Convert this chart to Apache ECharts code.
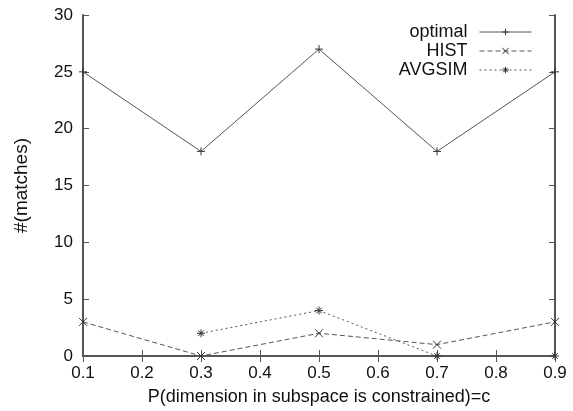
<!DOCTYPE html>
<html><head><meta charset="utf-8">
<script src="https://cdn.jsdelivr.net/npm/echarts@6/dist/echarts.min.js"></script>
<style>html,body{margin:0;padding:0;background:#fff}#c{width:573px;height:411px}</style>
</head><body><div id="c"></div>
<script>
var xValues = [0.1, 0.3, 0.5, 0.7, 0.9];
var optimal = [25, 18, 27, 18, 25];
var hist = [3, 0, 2, 1, 3];
var avgsim = [null, 2, 4, 0, 0];
var seriesNames = ['optimal', 'HIST', 'AVGSIM'];
var xTitle = 'P(dimension in subspace is constrained)=c';
var yTitle = '#(matches)';

function pairs(vals){ return xValues.map(function(x,i){ return [x, vals[i]]; }); }
var FONT = 'Liberation Sans, Arial, sans-serif';
var AX = '#555';
var LN = '#555';
var TX = '#111';
var plus = 'path://M0,5L10,5M5,0L5,10';
var cross = 'path://M0,0L10,10M10,0L0,10';
var star = 'path://M0,5L10,5M5,0L5,10M1.5,1.5L8.5,8.5M8.5,1.5L1.5,8.5';

function mk(name, vals, sym, type){
  return {
    name: name, type: 'line', data: pairs(vals), connectNulls: false,
    symbol: sym, symbolSize: 8,
    lineStyle: {color: LN, width: 1, type: type},
    itemStyle: {color: 'rgba(0,0,0,0)', borderColor: '#333', borderWidth: 1},
    emphasis: {disabled: true}, animation: false
  };
}
function legend(name, top){
  return {
    data: [name], right: 36, top: top, orient: 'vertical', align: 'right',
    itemWidth: 52, itemHeight: 8, itemGap: 0,
    itemStyle: {color: 'rgba(0,0,0,0)', borderColor: '#333', borderWidth: 1},
    lineStyle: {width: 1},
    textStyle: {fontFamily: FONT, fontSize: 18, color: TX, padding: [0, 7, 0, 0]}
  };
}
var chart = echarts.init(document.getElementById('c'), null, {renderer: 'canvas'});
chart.setOption({
  backgroundColor: '#fff',
  animation: false,
  grid: {left: 83, right: 18, top: 15, bottom: 55, containLabel: false},
  legend: [legend('optimal', 18), legend('HIST', 37), legend('AVGSIM', 56)],
  xAxis: [{
    type: 'value', min: 0.1, max: 0.9, interval: 0.1,
    name: xTitle, nameLocation: 'middle', nameGap: 32,
    nameTextStyle: {fontFamily: FONT, fontSize: 18, color: TX},
    axisLine: {lineStyle: {color: AX, width: 2}},
    axisTick: {inside: true, length: 6, lineStyle: {color: AX}},
    axisLabel: {fontFamily: FONT, fontSize: 17, color: TX, margin: 9,
      formatter: function(v){ return v.toFixed(1); }},
    splitLine: {show: false}
  }, {
    type: 'value', position: 'top', min: 0.1, max: 0.9, interval: 0.1,
    axisLine: {lineStyle: {color: AX, width: 2}},
    axisTick: {inside: true, length: 6, lineStyle: {color: AX}},
    axisLabel: {show: false}, splitLine: {show: false}
  }],
  yAxis: [{
    type: 'value', min: 0, max: 30, interval: 5,
    name: yTitle, nameLocation: 'middle', nameGap: 52, nameRotate: 90,
    nameTextStyle: {fontFamily: FONT, fontSize: 19, color: TX},
    axisLine: {show: true, lineStyle: {color: AX, width: 2}},
    axisTick: {show: true, inside: true, length: 6, lineStyle: {color: AX}},
    axisLabel: {fontFamily: FONT, fontSize: 17, color: TX, margin: 10},
    splitLine: {show: false}
  }, {
    type: 'value', position: 'right', min: 0, max: 30, interval: 5,
    axisLine: {show: true, lineStyle: {color: AX, width: 2}},
    axisTick: {show: true, inside: true, length: 6, lineStyle: {color: AX}},
    axisLabel: {show: false}, splitLine: {show: false}
  }],
  series: [
    mk(seriesNames[0], optimal, plus, 'solid'),
    mk(seriesNames[1], hist, cross, [5, 3]),
    mk(seriesNames[2], avgsim, star, [2, 3])
  ]
});
</script></body></html>
